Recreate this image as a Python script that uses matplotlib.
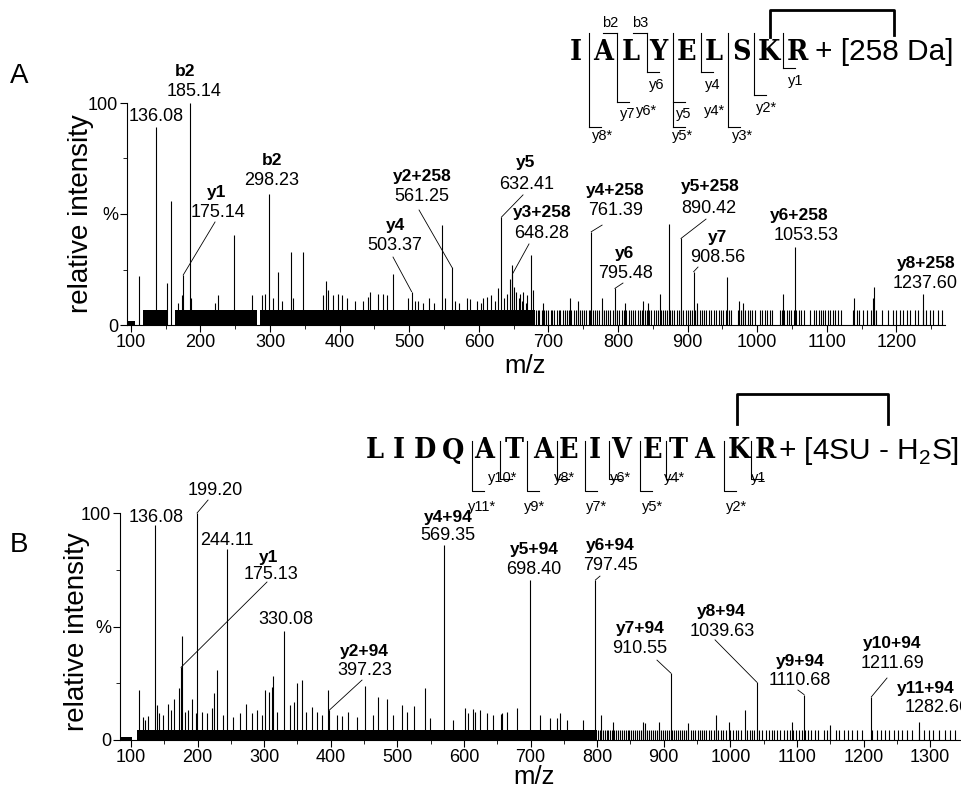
import matplotlib
matplotlib.use("Agg")
import matplotlib.pyplot as plt
from matplotlib.ticker import FixedLocator

plt.rcParams['font.family'] = ['Liberation Sans', 'DejaVu Sans']
plt.rcParams['mathtext.fontset'] = 'custom'
plt.rcParams['mathtext.rm'] = 'Liberation Sans'

# ---------------- panel A : IALYELSKR + [258 Da] ----------------
a_mz = [112, 136.08, 152, 157.6, 168, 173.5, 175.14, 185.14, 186.5, 221, 225, 248,
        273.5, 288, 292.7, 298.23, 304, 311, 316.7, 330, 332.5, 347, 376, 380, 383,
        390, 397.5, 404, 410, 422, 433, 440.5, 443.5, 455, 462, 467.5, 477, 498,
        503.37, 508, 512, 520, 528, 535, 547, 552, 561.25, 566, 572, 582.5, 587, 597,
        603, 606, 611, 618, 623, 627.5, 632.41, 636, 640, 645, 647, 648.28, 651, 654,
        657, 659, 662, 664, 667, 669.5, 675, 677.3, 692.5, 731, 743, 761.39, 776.5,
        795.48, 810, 836, 843, 860, 873, 890.42, 908.56, 914, 956, 974, 980, 1037,
        1053.53, 1139, 1166, 1168, 1237.60]
a_int = [22, 89, 19, 56, 10, 13.5, 22.5, 100, 12, 10, 13.5, 40.5,
         13.5, 13.5, 14, 59, 12, 24, 11, 33, 12, 33, 13.5, 20, 15.7,
         13.5, 14, 13.5, 12, 11, 11, 12.6, 15, 14, 14, 13.5, 23, 12,
         15, 11, 11, 10, 12, 10, 45, 12, 26, 11, 10, 12, 11.7, 11,
         10, 12, 12.6, 13.5, 11, 16.5, 48.6, 12, 14, 20.7, 27, 23, 17, 15,
         12, 14, 11, 15, 10, 13.5, 31.5, 15.7, 10, 12, 11, 42, 12,
         16.5, 10, 11, 10, 14, 45.5, 39, 24, 10, 21.6, 10.8, 10, 14,
         35, 12, 12, 17, 14]
a_band_start = [94.5, 117, 163, 285]
a_band_end = [106, 153, 281, 681]
a_band_height = [2, 6.8, 6.8, 6.8]
a_noise_mz = [682, 685, 687, 690, 694, 696, 699, 703, 705, 708, 712, 715, 717, 721,
              724, 727, 730, 732, 736, 739, 742, 745, 748, 751, 754, 758, 760, 764,
              767, 770, 773, 777, 780, 783, 786, 789, 793, 796, 799, 802, 806, 809,
              812, 815, 818, 822, 825, 828, 831, 835, 838, 841, 844, 848, 851, 854,
              857, 861, 864, 867, 870, 874, 877, 880, 884, 887, 890, 893, 897, 900,
              903, 906, 911, 914, 917, 921, 924, 927, 931, 934, 938, 941, 945, 948,
              951, 955, 959, 962, 972, 976, 979, 983, 986, 990, 993, 997, 1004,
              1007, 1011, 1014, 1018, 1021, 1033, 1035, 1039, 1042, 1046, 1049,
              1053, 1056, 1060, 1063, 1067, 1076, 1081, 1084, 1088, 1091, 1095,
              1098, 1102, 1105, 1109, 1112, 1116, 1120, 1138, 1143, 1146, 1152,
              1157, 1164, 1168, 1171, 1179, 1188, 1195, 1200, 1205, 1210, 1215,
              1219, 1226, 1231, 1238, 1243, 1248, 1253, 1260, 1265]
a_noise_height = 6.8
a_ticks = [100, 200, 300, 400, 500, 600, 700, 800, 900, 1000, 1100, 1200]
a_ion_name = ["b2", "", "y1", "b2", "y4", "y2+258", "y5", "y3+258", "y4+258", "y6",
              "y5+258", "y7", "y6+258", "y8+258"]
a_ion_mz = [185.14, 136.08, 175.14, 298.23, 503.37, 561.25, 632.41, 648.28, 761.39,
            795.48, 890.42, 908.56, 1053.53, 1237.60]

# ---------------- panel B : LIDQATAEIVETAKR + [4SU - H2S] ----------------
b_mz = [112.5, 117.6, 121, 126, 136.08, 138.6, 142.5, 147.6, 155, 159.6, 165, 172.6,
        175.13, 177, 181, 186, 191.6, 197.6, 199.20, 206, 214.6, 221, 224.7, 229.6,
        238.6, 244.11, 253.6, 263.6, 273, 281.3, 288.8, 296.3, 301, 307, 311, 313,
        318.8, 330.08, 338.8, 345.3, 349, 357, 362.8, 371.4, 378.9, 386.4, 396,
        397.23, 408.9, 416.4, 426.3, 438.9, 451, 463.9, 471, 484, 494, 506.5, 514,
        525, 541, 549, 569.35, 584, 601, 606.5, 614, 616.5, 624, 635, 644, 655, 657,
        664, 680, 698.40, 714, 729, 739, 744, 754, 779, 797.45, 805, 824, 869, 872,
        893, 910.55, 936, 978, 998, 1022, 1039.63, 1093, 1110.68, 1149, 1211.69,
        1282.66]
b_int = [22, 10.3, 8.8, 10.6, 94.7, 15.4, 11.8, 11, 16, 13.2, 18, 23,
         32, 46, 12.5, 13, 18, 11.7, 100, 12.5, 12, 14, 20.6, 31,
         11, 84, 10.3, 11.8, 16, 11.7, 13, 11, 22, 21, 23.5, 28,
         12.5, 48, 15.4, 16.9, 25, 26.5, 12.5, 14.7, 12.5, 11, 22,
         13, 11, 10.6, 12.5, 10.3, 24, 11, 19, 18, 11, 15.4, 12.5,
         15, 23, 9.5, 86, 8.8, 14, 11.8, 13.6, 12.5, 13.2, 11.8, 11, 11.5, 12,
         12.5, 14, 70.5, 11, 9.7, 9.7, 12, 8.8, 8.8, 70.5, 11, 8, 8, 7.5,
         8, 29.5, 7.5, 11, 8, 13, 25.5, 8, 20, 6.6, 19,
         8]
b_band_start = [83.5, 109]
b_band_end = [101, 800]
b_band_height = [1.2, 4.2]
b_noise_mz = [801, 804, 806, 809, 812, 815, 817, 820, 823, 826, 829, 831, 834, 837,
              840, 843, 846, 848, 851, 854, 857, 860, 863, 866, 869, 872, 875, 878,
              881, 884, 887, 890, 893, 896, 899, 902, 905, 908, 912, 915, 918, 921,
              924, 928, 931, 934, 937, 941, 944, 947, 951, 954, 957, 961, 964, 968,
              971, 975, 978, 982, 986, 989, 993, 1000, 1004, 1008, 1012, 1016, 1025,
              1029, 1033, 1036, 1040, 1043, 1047, 1054, 1058, 1062, 1066, 1070, 1075,
              1080, 1085, 1090, 1094, 1099, 1103, 1108, 1112, 1117, 1121, 1127, 1132,
              1140, 1145, 1150, 1158, 1163, 1170, 1176, 1183, 1190, 1197, 1212, 1220,
              1226, 1232, 1238, 1245, 1252, 1258, 1265, 1272, 1283, 1290, 1298, 1305,
              1313, 1322, 1330, 1338]
b_noise_height = 4.2
b_ticks = [100, 200, 300, 400, 500, 600, 700, 800, 900, 1000, 1100, 1200, 1300]
b_ion_name = ["", "", "", "y1", "", "y2+94", "y4+94", "y5+94", "y6+94", "y7+94",
              "y8+94", "y9+94", "y10+94", "y11+94"]
b_ion_mz = [136.08, 199.20, 244.11, 175.13, 330.08, 397.23, 569.35, 698.40, 797.45,
            910.55, 1039.63, 1110.68, 1211.69, 1282.66]

# ---------------- layout (label placement, data coords) ----------------
# (bold_x, bold_y, num_x, num_y, leader_x, leader_y)  -- None = no leader
a_label_pos = [(177.7, 114, 190.7, 105, None, None),
               (None, None, 136.08, 94.1, None, None),
               (223.7, 59.5, 225.2, 50.5, 220.9, 46.4),
               (302.7, 74.3, 302.7, 65.3, None, None),
               (479.5, 45, 479.5, 36, 476.6, 30.6),
               (518.3, 66.7, 518.3, 57.7, 514, 51.8),
               (667.7, 73, 669.1, 63.1, 663.4, 58.6),
               (690.7, 50.5, 690.7, 41.4, 672, 36.5),
               (795.6, 60.8, 797, 51.8, 777, 45),
               (809.9, 32, 811.4, 23.4, 807, 18.9),
               (932, 62.2, 930.6, 52.7, 926.3, 47.7),
               (943.5, 39.6, 943.5, 30.6, 914.8, 26.1),
               (1060, 49.1, 1070, 40.1, None, None),
               (1242.4, 27.9, 1241, 18.9, None, None)]
b_label_pos = [(None, None, 137.6, 98.2, None, None),
               (None, None, 226.2, 110.1, 215.7, 105.7),
               (None, None, 244.2, 88.1, None, None),
               (307.2, 80.6, 310.2, 72.7, 304.2, 69.6),
               (None, None, 332.8, 53.3, None, None),
               (449.9, 39.2, 451.4, 30.4, 446.9, 26.4),
               (576, 98.2, 576, 89.9, None, None),
               (705.2, 84.1, 705.2, 74.9, None, None),
               (819.3, 85.9, 819.3, 76.7, 804.2, 72.2),
               (864.3, 49.3, 864.3, 40.5, 889.8, 35.2),
               (986, 56.8, 987.4, 48, 977, 44.1),
               (1104.5, 34.8, 1104.5, 26, 1101.5, 22),
               (1242.7, 42.3, 1242.7, 33.5, 1235.2, 27.3),
               (1293.8, 22.9, 1310.3, 14.1, None, None)]

W, H = 961, 791
fig = plt.figure(figsize=(W / 100, H / 100), dpi=100)


def px_box(left, top, right, bottom):
    return [left / W, 1 - bottom / H, (right - left) / W, (bottom - top) / H]


def draw_panel(ax, mz, inten, b_start, b_end, b_height, noise_mz, noise_h,
               ticks, ion_name, ion_mz, label_pos, xlim, ylab_xy, xlab_xy):
    ax.bar(b_start, b_height, width=[e - s for s, e in zip(b_start, b_end)],
           align='edge', color='black', linewidth=0)
    ax.vlines(noise_mz, 0, noise_h, color='black', linewidth=0.8)
    ax.vlines(mz, 0, inten, color='black', linewidth=0.8)
    lookup = dict(zip(mz, inten))
    for name, m, pos in zip(ion_name, ion_mz, label_pos):
        bx, by, nx, ny, lx, ly = pos
        if name:
            ax.text(bx, by, name, ha='center', va='center', fontsize=12.5,
                    fontweight='bold', clip_on=False)
        ax.text(nx, ny, f"{m:.2f}", ha='center', va='center', fontsize=13,
                clip_on=False)
        if lx is not None:
            ax.plot([lx, m], [ly, lookup[m]], color='black', linewidth=0.6,
                    clip_on=False)
    ax.set_xlim(*xlim)
    ax.set_ylim(0, 100)
    ax.spines['top'].set_visible(False)
    ax.spines['right'].set_visible(False)
    ax.xaxis.set_major_locator(FixedLocator(ticks))
    ax.set_xticklabels([str(t) for t in ticks])
    ax.yaxis.set_major_locator(FixedLocator([0, 50, 100]))
    ax.set_yticklabels(["0", "%", "100"])
    ax.yaxis.set_minor_locator(FixedLocator([25, 75]))
    ax.xaxis.set_minor_locator(FixedLocator([t + 50 for t in ticks]))
    ax.tick_params(labelsize=13, length=5, width=0.8, pad=1.5)
    ax.tick_params(which='minor', length=3, width=0.6)
    ax.set_ylabel("relative intensity", fontsize=20, va='center')
    ax.yaxis.set_label_coords(*ylab_xy)
    ax.set_xlabel("m/z", fontsize=18.5, va='center')
    ax.xaxis.set_label_coords(*xlab_xy)


ax_a = fig.add_axes(px_box(127, 103, 945, 325))
draw_panel(ax_a, a_mz, a_int, a_band_start, a_band_end, a_band_height,
           a_noise_mz, a_noise_height, a_ticks, a_ion_name, a_ion_mz,
           a_label_pos, (94.4, 1269.7), (-0.056, 0.5), (0.487, -0.185))

ax_b = fig.add_axes(px_box(120, 513, 960, 740))
draw_panel(ax_b, b_mz, b_int, b_band_start, b_band_end, b_band_height,
           b_noise_mz, b_noise_height, b_ticks, b_ion_name, b_ion_mz,
           b_label_pos, (83.5, 1344.8), (-0.051, 0.476), (0.493, -0.164))

# ---------------- overlay: panel letters and sequence diagrams ----------------
ov = fig.add_axes([0, 0, 1, 1])
ov.set_xlim(0, W)
ov.set_ylim(H, 0)
ov.axis('off')

ov.text(19, 76, "A", fontsize=20, ha='center', va='center')
ov.text(19, 545, "B", fontsize=20, ha='center', va='center')

seq_font = dict(family='DejaVu Serif', fontweight='bold', fontsize=20.5,
                fontstretch='condensed', ha='center', va='center')
frag_font = dict(fontsize=10.5, ha='center', va='center')

# sequence A
seq_a = "IALYELSKR"
seq_a_x = [576, 603, 631, 658, 686, 714, 741, 769, 797]
for ch, x in zip(seq_a, seq_a_x):
    ov.text(x, 52, ch, **seq_font)
ov.text(815, 52, "+ [258 Da]", fontsize=21.5, ha='left', va='center')
ov.plot([770, 770, 894, 894], [37, 10, 10, 35], color='black', linewidth=2)
# (gap x, bottom y, [(tick y, label, label x, label y)])
frag_a = [(589, 127, [(127, "y8*", 603, 136)]),
          (617, 102, [(102, "y7", 628, 114)]),
          (647, 72, [(72, "y6", 657, 85)]),
          (673, 127, [(102, "y5", 684, 114), (127, "y5*", 683, 136)]),
          (701, 72, [(72, "y4", 713, 85)]),
          (728, 127, [(127, "y3*", 743, 136)]),
          (754, 95, [(95, "y2*", 766, 108)]),
          (783, 68, [(68, "y1", 796, 81)])]
for gx, bottom, ticks in frag_a:
    ov.plot([gx, gx], [33, bottom], color='black', linewidth=0.8)
    for ty, lab, lx, ly in ticks:
        ov.plot([gx, gx + 12], [ty, ty], color='black', linewidth=0.8)
        ov.text(lx, ly, lab, **frag_font)
ov.text(647, 111, "y6*", **frag_font)
ov.text(714, 111, "y4*", **frag_font)
for gx, lab in [(617, "b2"), (647, "b3")]:
    ov.plot([gx - 14, gx], [33, 33], color='black', linewidth=0.8)
    ov.text(gx - 7, 23, lab, **frag_font)

# sequence B
seq_b = "LIDQATAEIVETAKR"
seq_b_x = [375, 399, 425, 453, 484, 514, 543, 569, 595, 621, 652, 678, 704, 739, 765]
for ch, x in zip(seq_b, seq_b_x):
    ov.text(x, 451, ch, **seq_font)
ov.text(778, 451, r"+ [4SU - H$_\mathregular{2}$S]", fontsize=21.5, ha='left',
        va='center')
ov.plot([737, 737, 888, 888], [424, 394, 394, 424], color='black', linewidth=2)
frag_b = [(472, 491, "y11*", 482, 507), (500, 479, "y10*", 503, 478),
          (527, 491, "y9*", 535, 507), (557, 479, "y8*", 564, 478),
          (585, 491, "y7*", 597, 507), (609, 479, "y6*", 621, 478),
          (640, 491, "y5*", 653, 507), (666, 479, "y4*", 675, 478),
          (724, 491, "y2*", 736, 507), (751, 479, "y1", 759, 478)]
for gx, bottom, lab, lx, ly in frag_b:
    ov.plot([gx, gx, gx + 12], [441, bottom, bottom], color='black', linewidth=0.8)
    ov.text(lx, ly, lab, **frag_font)

fig.savefig("out.png", dpi=100)
